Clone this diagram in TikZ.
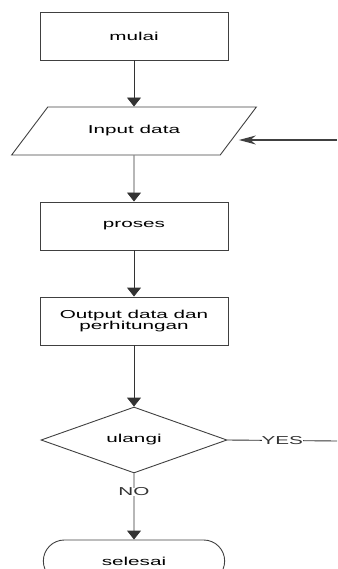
\documentclass[tikz,border=0pt]{standalone}
\usepackage{fontspec}
\setmainfont{Liberation Sans}
\usetikzlibrary{shapes.geometric, shapes.misc, arrows.meta}
\newcommand{\wide}[1]{\scalebox{1.8}[1]{#1}}
\tikzset{
  process/.style={rectangle, draw=black!75, minimum width=188pt, minimum height=48pt, align=center},
  io/.style={trapezium, trapezium left angle=40, trapezium right angle=140, trapezium stretches=true, draw=black!75, minimum width=245pt, minimum height=48pt},
  decision/.style={diamond, draw=black!75, minimum width=186pt, minimum height=46pt, inner sep=0pt},
  startstop/.style={rounded rectangle, draw=black!75, minimum width=188pt, minimum height=42pt},
  arrow/.style={-{Triangle[width=14pt,length=9pt]}, black!80},
  label/.style={fill=white, inner sep=0pt}
}
\begin{document}
\begin{tikzpicture}[x=1pt, y=-1pt, node distance=95pt, line width=0.9pt, font=\fontsize{11.5}{11}\selectfont]

    \useasboundingbox (0,0) rectangle (337,569);

    % Steps
    \node (mulai) [process] at (134,36) {\wide{mulai}};
    \node (input) [io, below of=mulai] {\wide{Input data}};
    \node (proses) [process, below of=input] {\wide{proses}};
    \node (output) [process, below of=proses] {\wide{Output data dan}\\\wide{perhitungan}};
    \node (ulangi) [decision, below of=output, yshift=-24pt] {\wide{ulangi}};
    \node (selesai) [startstop, below of=ulangi, yshift=-26pt] {\wide{selesai}};

    % Loose ends on the right
    \coordinate (back) at (337,140);
    \coordinate (yes) at (337,441);

    % Flow
    \draw [arrow] (mulai) -- (input);
    \draw [arrow] (input) -- (proses);
    \draw [arrow] (proses) -- (output);
    \draw [arrow] (output) -- (ulangi);
    \draw [arrow] (ulangi) -- node[label, pos=0.28] {\wide{NO}} (selesai);
    \draw [black!80] (ulangi.east) -- node[label] {\wide{YES}} (yes);
    \draw [-{Stealth[width=9pt,length=17pt]}, line width=1.5pt, black!75] (back) -- (back -| input.east);

\end{tikzpicture}
\end{document}
